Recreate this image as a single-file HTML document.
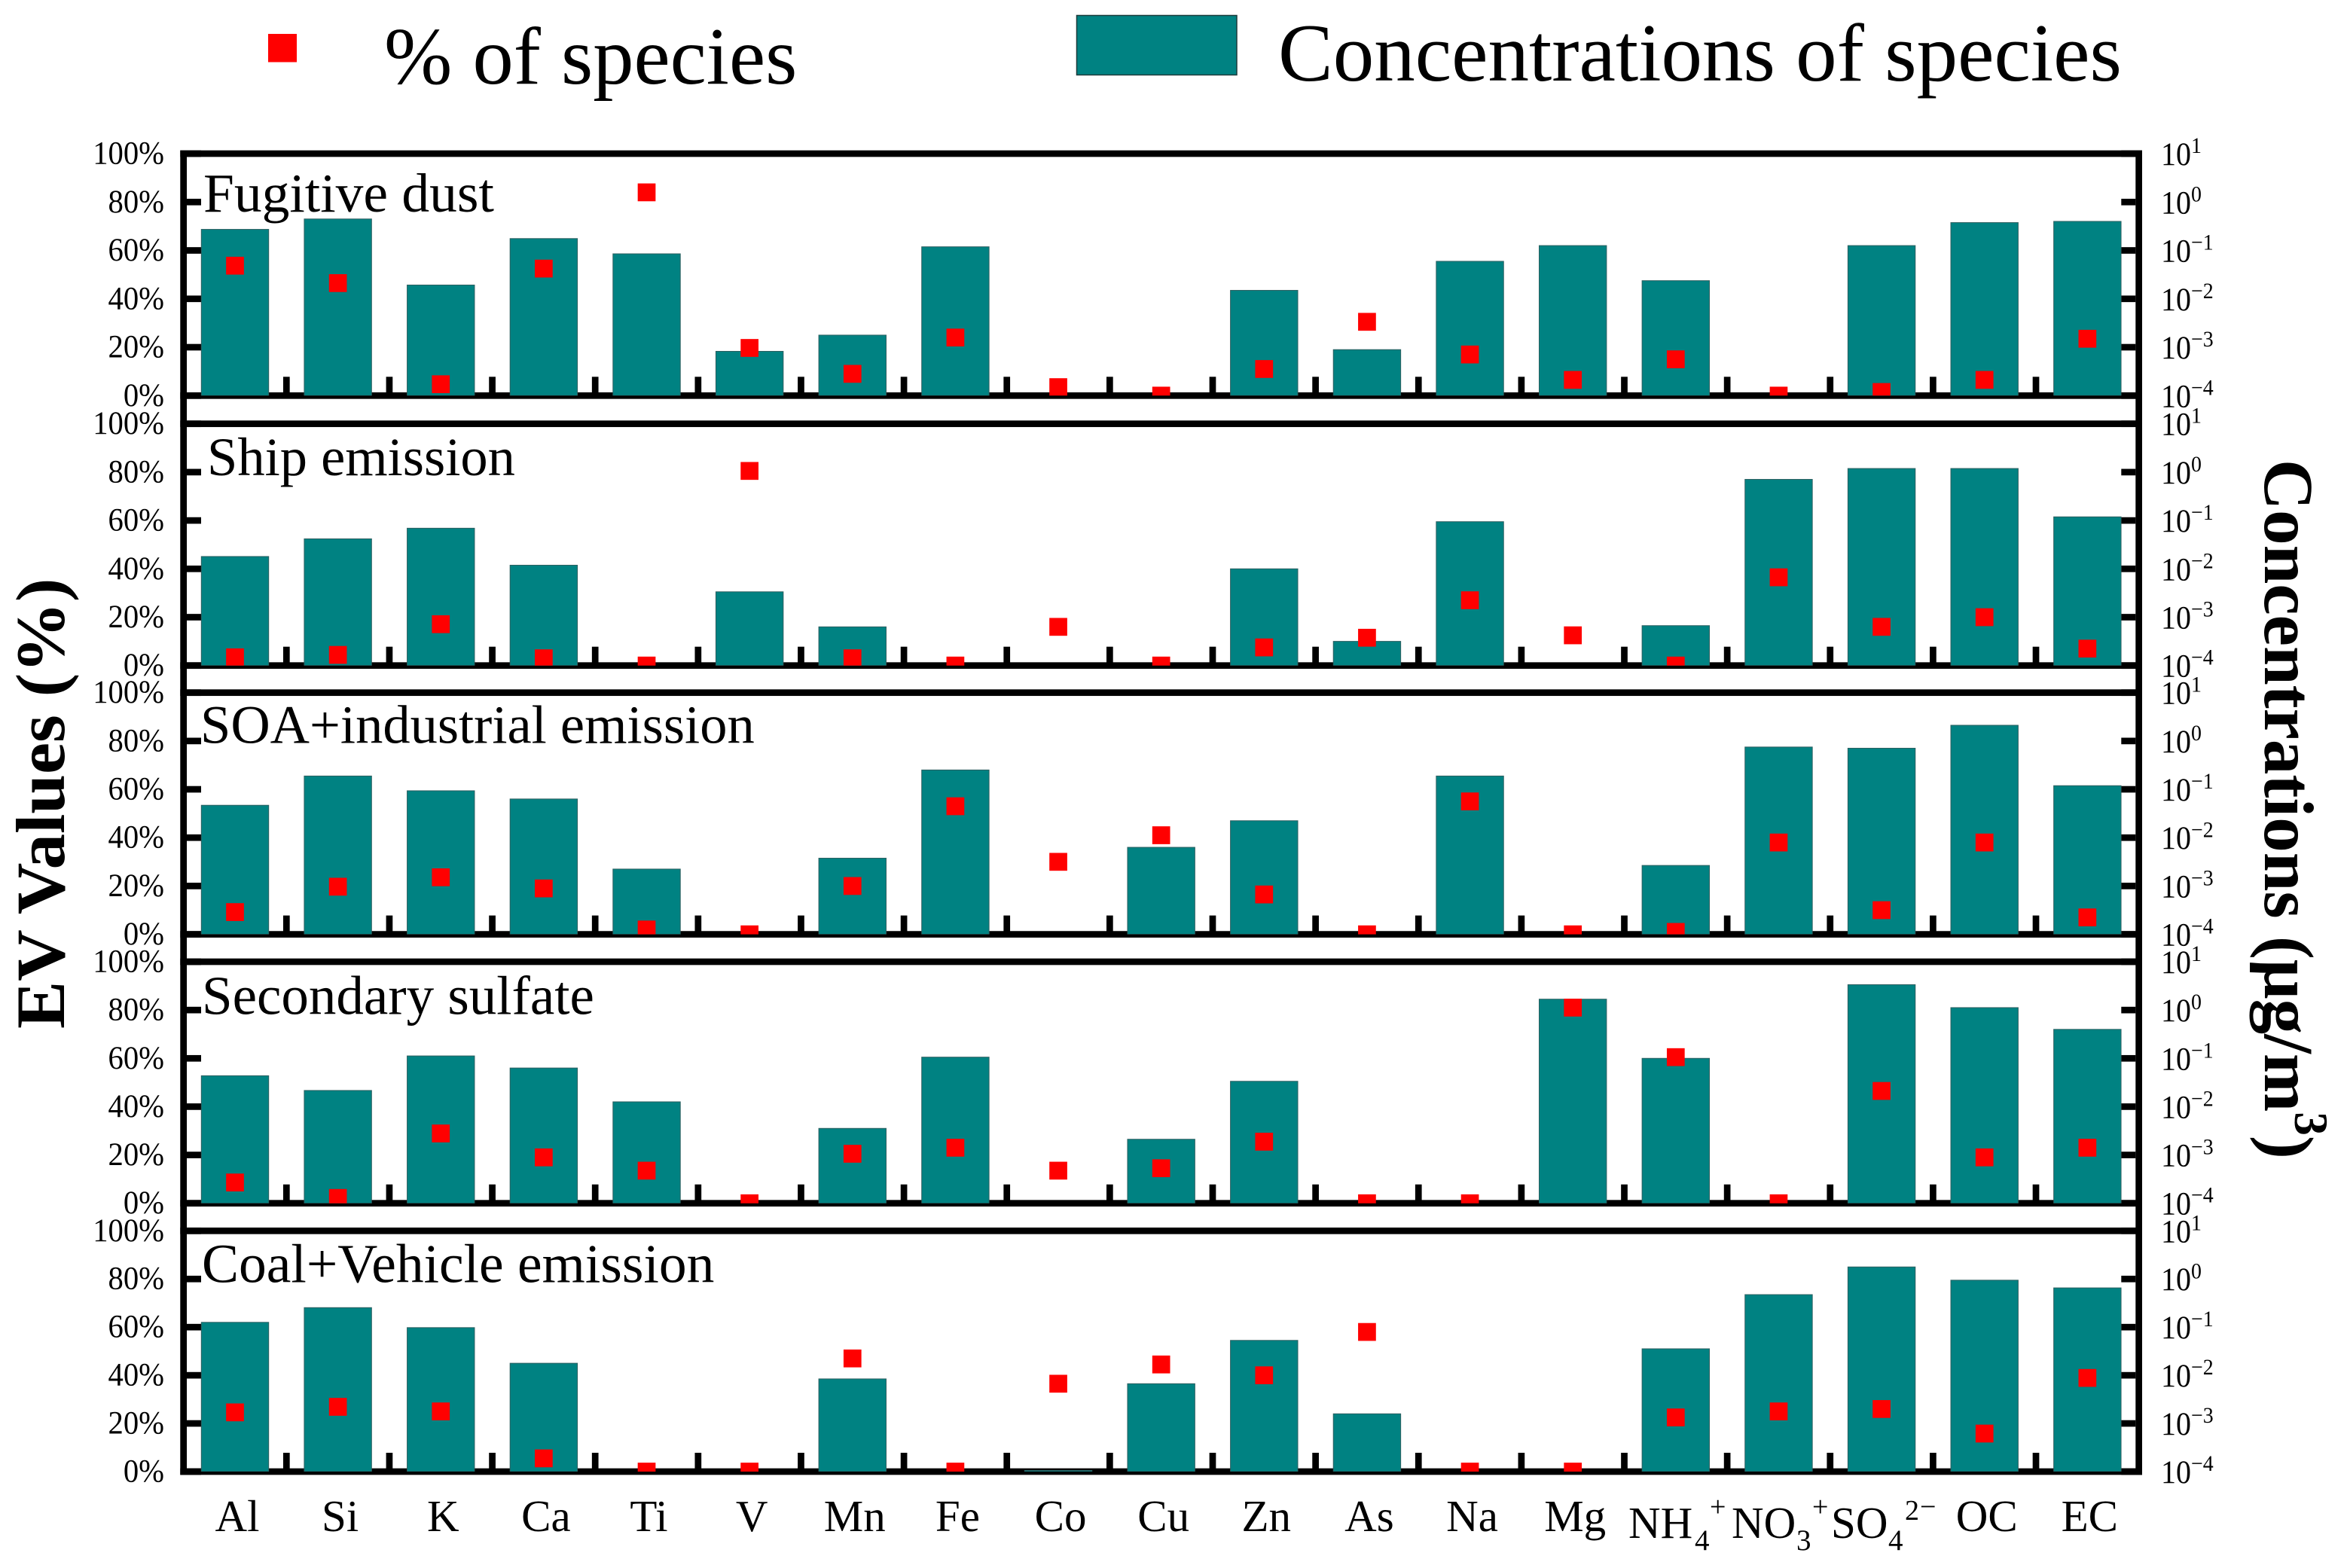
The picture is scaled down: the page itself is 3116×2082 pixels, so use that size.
<!DOCTYPE html>
<html lang="en">
<head>
<meta charset="utf-8">
<title>EV values and concentrations of species</title>
<style>
html,body{margin:0;padding:0;background:#fff;}
svg{display:block;}
text{font-family:"Liberation Serif",serif;fill:#000;}
</style>
</head>
<body>
<svg id="chart" xmlns="http://www.w3.org/2000/svg" width="3116" height="2082" viewBox="0 0 3116 2082">
  <rect x="0" y="0" width="3116" height="2082" fill="#fff"/>
  <g>
    <rect x="356" y="45" width="38" height="37.5" fill="#ff0000"/>
    <text x="510" y="111" font-size="108.5">% of species</text>
    <rect x="1429.5" y="20.5" width="212.5" height="79" fill="#008282" stroke="#1c3a3a" stroke-width="1.5"/>
    <text x="1697" y="107" font-size="109">Concentrations of species</text>
  </g>
  <text transform="translate(85,1366) rotate(-90) scale(1.03,1)" font-size="92" font-weight="bold">EV Values (%)</text>
  <text transform="translate(3007,610) rotate(90)" font-size="93" font-weight="bold">Concentrations (μg/m<tspan font-size="63" dy="-40">3</tspan><tspan dy="40">)</tspan></text>
  <g id="frame"></g>
  <g id="panels"></g>
  <g id="labels"></g>
  <g font-size="59">
    <text x="2162" y="2042">NH<tspan x="2250" y="2058" font-size="39">4</tspan><tspan x="2270" y="2013" font-size="38">+</tspan></text>
    <text x="2299" y="2042">NO<tspan x="2385" y="2058" font-size="39">3</tspan><tspan x="2406" y="2013" font-size="38">+</tspan></text>
    <text x="2431" y="2042">SO<tspan x="2507" y="2058" font-size="39">4</tspan><tspan x="2529" y="2018" font-size="38">2</tspan><tspan x="2549" y="2013" font-size="38">−</tspan></text>
  </g>
</svg>
<script>
// ---- data ----
const categories = ['Al','Si','K','Ca','Ti','V','Mn','Fe','Co','Cu','Zn','As','Na','Mg','NH4+','NO3-','SO42-','OC','EC'];
const panelTitles = ['Fugitive dust','Ship emission','SOA+industrial emission','Secondary sulfate','Coal+Vehicle emission'];
const percentTicks = [100,80,60,40,20,0];
const logTicks = [1,0,-1,-2,-3,-4];

// log10 of concentration (ug/m3), bars on the right axis
const concFugitive = [-0.565,-0.35,-1.715,-0.755,-1.07,-3.085,-2.75,-0.925,-4,-4,-1.825,-3.05,-1.225,-0.9,-1.625,-4,-0.9,-0.425,-0.4];
const concShip = [-1.745,-1.38,-1.16,-1.925,-4,-2.475,-3.2,-4,-4,-4,-2,-3.5,-1.025,-4,-3.175,-0.15,0.075,0.075,-0.925];
const concSoa = [-1.33,-0.725,-1.03,-1.2,-2.65,-4,-2.425,-0.6,-4,-2.2,-1.65,-4,-0.725,-4,-2.575,-0.125,-0.15,0.325,-0.925];
const concSulfate = [-1.36,-1.665,-0.95,-1.2,-1.9,-4,-2.45,-0.975,-4,-2.675,-1.475,-4,-4,0.225,-1,-4,0.525,0.05,-0.4];
const concCoal = [-0.9,-0.595,-1.01,-1.75,-4,-4,-2.075,-4,-3.975,-2.175,-1.275,-2.8,-4,-4,-1.45,-0.325,0.25,-0.025,-0.185];

// % of species, markers on the left axis
const pctFugitive = [53.7,46.5,4.7,52.5,84,19.7,9,24,3.5,0,11,30.5,17,6.5,15,0,1.5,6.5,23.5];
const pctShip = [3.4,4.4,17.1,3,0,80.5,3,0,16,0,7.5,11.5,27,12.5,0,36.5,16,20,7];
const pctSoa = [9.2,19.7,23.6,19,2,0,20,53,30,41,16.5,0,55,0,1,38,10,38,7];
const pctSulfate = [8.6,2.2,28.9,19,13.5,0,20.5,23,13.5,14.5,25.5,0,0,81,60.5,0,46.5,19,23];
const pctCoal = [24.6,26.9,25,5.5,0,0,47,0,36.5,44.5,40,58,0,0,22.5,25,26,15.8,38.9];

const concSeries = [concFugitive,concShip,concSoa,concSulfate,concCoal];
const pctSeries = [pctFugitive,pctShip,pctSoa,pctSulfate,pctCoal];

// ---- layout ----
const NS = 'http://www.w3.org/2000/svg';
const frameG = document.getElementById('frame');
const panelsG = document.getElementById('panels');
const labelsG = document.getElementById('labels');
const panelBox = [[204,525.3],[562.7,883.7],[919.7,1240.6],[1277,1597.7],[1634.3,1954]];
const titleAnchor = [[270,281],[275,631],[266,986.7],[268,1346.7],[268,1702.7]];
const titleSize = [73.5,72.5,72.5,73,73.5];
const LEFT_X0 = 239.3, LEFT_X1 = 248, RIGHT_X0 = 2835.3, RIGHT_X1 = 2844, LINE = 8.7;
const BAR_W = 89.4, MARK = 23.7, TICK_IN = 19, XTICK = 25;

function add(tag, parent, attrs) {
  const e = document.createElementNS(NS, tag);
  for (const k in attrs) e.setAttribute(k, attrs[k]);
  parent.appendChild(e);
  return e;
}
function xCenter(i) { return 312 + 136.63 * i; }
function yPct(p, v) { const b = panelBox[p]; return b[1] - (v / 100) * (b[1] - b[0]); }
function yLog(p, v) { const b = panelBox[p]; return b[1] - ((v + 4) / 5) * (b[1] - b[0]); }

// outer verticals
const leftSpine = add('rect', frameG, {x:LEFT_X0, y:panelBox[0][0]-LINE/2, width:LEFT_X1-LEFT_X0, height:panelBox[4][1]-panelBox[0][0]+LINE, fill:'#000'});


const rightSpine = add('rect', frameG, {x:RIGHT_X0, y:panelBox[0][0]-LINE/2, width:RIGHT_X1-RIGHT_X0, height:panelBox[4][1]-panelBox[0][0]+LINE, fill:'#000'});



panelBox.forEach(function (box, p) {
  const top = add('rect', frameG, {x:LEFT_X0, y:box[0]-LINE/2, width:RIGHT_X1-LEFT_X0, height:LINE, fill:'#000'});
  
  
  const bottom = add('rect', frameG, {x:LEFT_X0, y:box[1]-LINE/2, width:RIGHT_X1-LEFT_X0, height:LINE, fill:'#000'});
  
  

  // left ticks + labels
  percentTicks.forEach(function (t) {
    const y = yPct(p, t);
    const tick = add('rect', frameG, {x:LEFT_X1, y:y-LINE/2, width:TICK_IN, height:LINE, fill:'#000'});
    
    
    const lab = add('text', labelsG, {transform:'translate(218,' + (y + 13.5) + ') scale(.945,1)', 'font-size':43, 'text-anchor':'end'});
    lab.textContent = t + '%';
    
    
  });

  // right ticks + labels
  logTicks.forEach(function (t) {
    const y = yLog(p, t);
    const tick = add('rect', frameG, {x:RIGHT_X0-TICK_IN, y:y-LINE/2, width:TICK_IN, height:LINE, fill:'#000'});
    
    
    const lab = add('text', labelsG, {transform:'translate(2869,' + (y + 15) + ') scale(.93,1)', 'font-size':43});
    
    
    lab.appendChild(document.createTextNode('10'));
    const sup = add('tspan', lab, {'font-size':30, dy:-16});
    sup.textContent = String(t).replace('-', '\u2212');
  });

  // x ticks between categories
  for (let i = 0; i < categories.length - 1; i++) {
    const xt = add('rect', frameG, {x:(xCenter(i)+xCenter(i+1))/2-LINE/2, y:box[1]-XTICK, width:LINE, height:XTICK, fill:'#000'});
    
    
  }

  // marks, clipped at the zero line
  const g = add('g', panelsG, {});
  
  
  const defs = add('clipPath', g, {id:'clip' + p});
  add('rect', defs, {x:LEFT_X1, y:box[0], width:RIGHT_X0-LEFT_X1, height:box[1]-box[0]});
  const marks = add('g', g, {'clip-path':'url(#clip' + p + ')'});
  
  

  categories.forEach(function (c, i) {
    const yTop = yLog(p, concSeries[p][i]);
    if (box[1] - yTop > 0.2) {
      const bar = add('rect', marks, {x:xCenter(i)-BAR_W/2, y:yTop, width:BAR_W, height:box[1]-yTop, fill:'#008282', stroke:'#2d5f60', 'stroke-width':1});
      
      
    }
  });
  categories.forEach(function (c, i) {
    const yc = yPct(p, pctSeries[p][i]);
    const m = add('rect', marks, {x:xCenter(i)-MARK/2, y:yc-MARK/2, width:MARK, height:MARK, fill:'#ff0000'});
    
    
  });

  const title = add('text', labelsG, {x:titleAnchor[p][0], y:titleAnchor[p][1], 'font-size':titleSize[p]});
  title.textContent = panelTitles[p];
  
  
});

// plain category labels (ions are written in the markup with sub/superscripts)
categories.forEach(function (c, i) {
  if (/\d/.test(c)) return;
  const lab = add('text', labelsG, {x:xCenter(i)+3, y:2033, 'font-size':59, 'text-anchor':'middle'});
  lab.textContent = c;
  
  
});
</script>
</body>
</html>
